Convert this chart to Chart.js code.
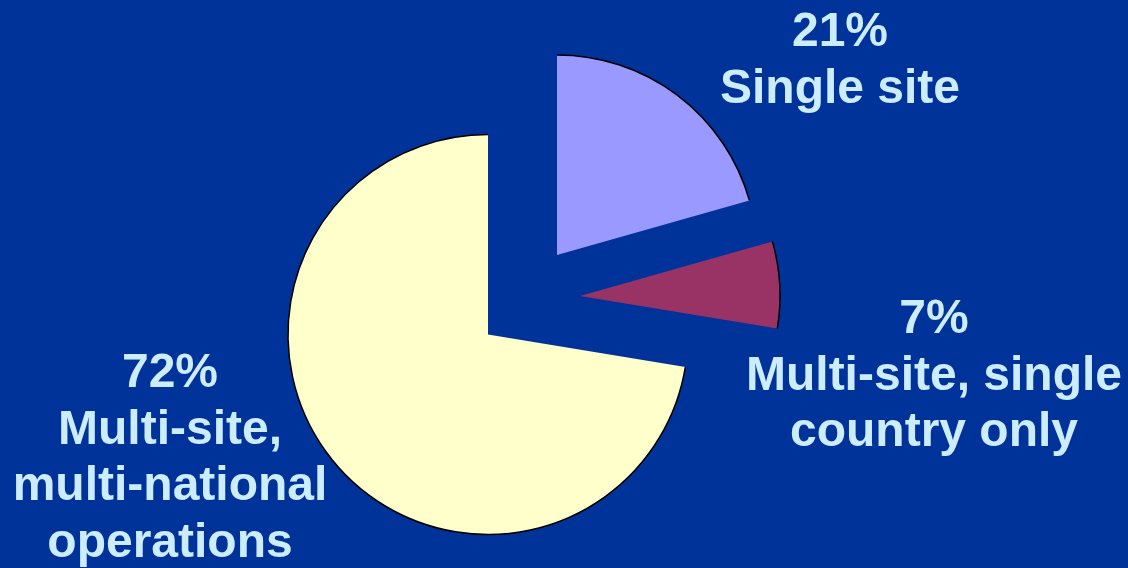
<!DOCTYPE html>
<html>
<head>
<meta charset="utf-8">
<script src="https://cdn.jsdelivr.net/npm/chart.js@4/dist/chart.umd.min.js"></script>
<style>
  html, body { margin: 0; padding: 0; background: #003399; }
  #wrap { width: 1128px; height: 568px; position: relative; }
</style>
</head>
<body>
<div id="wrap"><canvas id="pie"></canvas></div>
<script>
// data (clockwise from 12 o'clock)
const categories = ['Single site', 'Multi-site, single country only', 'Multi-site, multi-national operations'];
const values = [20.6, 7.0, 72.4];
const labelLines = [
    ['Single site'],
    ['Multi-site, single', 'country only'],
    ['Multi-site,', 'multi-national', 'operations']
];
const sliceColors = ['#9999FF', '#993366', '#FFFFCC'];

// pulls the exploded slices out to where they sit in the picture
const explode = {
    id: 'explode',
    afterDatasetsUpdate(chart, args, opts) {
        chart.getDatasetMeta(0).data.forEach((arc, i) => {
            const s = opts.shifts[i] || [0, 0];
            arc.x += s[0];
            arc.y += s[1];
        });
    }
};

// black outline only along the round edge of every slice
const rimLine = {
    id: 'rimLine',
    afterDatasetsDraw(chart, args, opts) {
        const ctx = chart.ctx;
        ctx.save();
        ctx.strokeStyle = opts.color;
        ctx.lineWidth = opts.width;
        chart.getDatasetMeta(0).data.forEach(arc => {
            ctx.beginPath();
            ctx.arc(arc.x, arc.y, arc.outerRadius, arc.startAngle, arc.endAngle);
            ctx.stroke();
        });
        ctx.restore();
    }
};

// percentage + category text blocks
const sliceText = {
    id: 'sliceText',
    afterDraw(chart, args, opts) {
        const ctx = chart.ctx;
        ctx.save();
        ctx.fillStyle = opts.color;
        ctx.font = opts.font;
        ctx.textAlign = 'center';
        ctx.textBaseline = 'alphabetic';
        opts.anchors.forEach((a, i) => {
            const lines = [Math.round(values[i]) + '%'].concat(labelLines[i]);
            lines.forEach((t, j) => ctx.fillText(t, a[0], a[1] + j * opts.lineHeight));
        });
        ctx.restore();
    }
};

new Chart(document.getElementById('pie'), {
    type: 'pie',
    data: {
        labels: categories,
        datasets: [{
            data: values,
            backgroundColor: sliceColors,
            borderWidth: 0
        }]
    },
    options: {
        responsive: true,
        maintainAspectRatio: false,
        animation: false,
        events: [],
        radius: 200,
        layout: { padding: { left: 0, right: 152, top: 101, bottom: 0 } },
        plugins: {
            legend: { display: false },
            tooltip: { enabled: false },
            explode: { shifts: [[69, -79.5], [92, -38.5], [0, 0]] },
            rimLine: { color: '#000000', width: 1.5 },
            sliceText: {
                color: '#CCECFF',
                font: 'bold 48px "Liberation Sans", Arial, sans-serif',
                lineHeight: 56.5,
                anchors: [[840, 46], [934, 333], [170, 387]]
            }
        }
    },
    plugins: [explode, rimLine, sliceText]
});
</script>
</body>
</html>
